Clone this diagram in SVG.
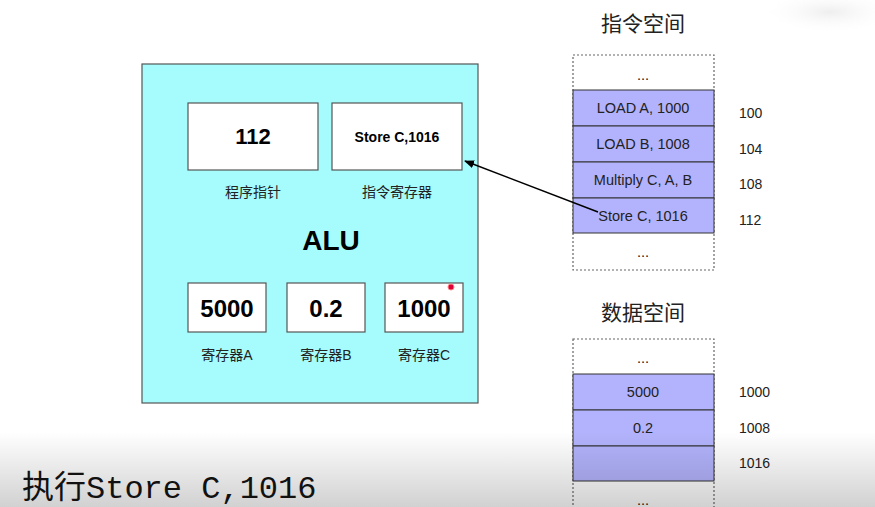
<svg xmlns="http://www.w3.org/2000/svg" width="875" height="507" viewBox="0 0 875 507">
<defs>
<style>
.box{fill:#fff;stroke:#555;stroke-width:1.2}
.big{font-family:"Liberation Sans",Arial,sans-serif;font-weight:bold;fill:#000;text-anchor:middle}
.lbl{font-family:"Liberation Sans","Noto Sans CJK SC",sans-serif;font-size:14px;fill:#222;text-anchor:middle}
.row{fill:#b3b3fd;stroke:#333;stroke-width:1}
.dot{fill:none;stroke:#666;stroke-width:1.2;stroke-dasharray:2,2}
.cell{font-family:"Liberation Sans",Arial,sans-serif;font-size:14.5px;fill:#222;text-anchor:middle}
.addr{font-family:"Liberation Sans",Arial,sans-serif;font-size:14px;fill:#222}
.title{font-family:"Noto Sans CJK SC",sans-serif;font-size:21px;fill:#222;text-anchor:middle}
</style>
<marker id="arr" markerWidth="10" markerHeight="8" refX="9" refY="4" orient="auto" markerUnits="userSpaceOnUse">
<path d="M0,0 L10,4 L0,8 Z" fill="#000"/>
</marker>
<linearGradient id="shade" x1="0" y1="0" x2="0" y2="1">
<stop offset="0" stop-color="#000" stop-opacity="0"/>
<stop offset="1" stop-color="#000" stop-opacity="0.18"/>
</linearGradient>
<radialGradient id="blob" cx="0.5" cy="0.5" r="0.5">
<stop offset="0" stop-color="#eee"/>
<stop offset="1" stop-color="#fff" stop-opacity="0"/>
</radialGradient>
</defs>
<rect width="875" height="507" fill="#fff"/>
<ellipse cx="830" cy="12" rx="70" ry="22" fill="url(#blob)"/>

<g id="alu">
<rect x="142" y="64" width="336" height="339" fill="#a6fcfc" stroke="#555" stroke-width="1.2"/>
<text x="331" y="250" class="big" font-size="28">ALU</text>
</g>
<g id="pc">
<rect class="box" x="188" y="103" width="130" height="67"/>
<text x="253" y="144" class="big" font-size="22">112</text>
<text x="253" y="197" class="lbl">程序指针</text>
</g>
<g id="ir">
<rect class="box" x="332" y="103" width="130" height="67"/>
<text x="397" y="142" class="big" font-size="14">Store C,1016</text>
<text x="397" y="197" class="lbl">指令寄存器</text>
</g>
<g id="regA">
<rect class="box" x="188" y="283" width="78" height="49"/>
<text x="227" y="317" class="big" font-size="24">5000</text>
<text x="227" y="360" class="lbl">寄存器A</text>
</g>
<g id="regB">
<rect class="box" x="287" y="283" width="78" height="49"/>
<text x="326" y="317" class="big" font-size="24">0.2</text>
<text x="326" y="360" class="lbl">寄存器B</text>
</g>
<g id="regC">
<rect class="box" x="385" y="283" width="78" height="49"/>
<text x="424" y="317" class="big" font-size="24">1000</text>
<text x="424" y="360" class="lbl">寄存器C</text>
<circle cx="451" cy="287" r="3" fill="#e0003a" stroke="#ff8080" stroke-width="1"/>
</g>

<g id="instr">
<text x="643" y="31" class="title">指令空间</text>
<rect class="dot" x="573" y="55" width="141" height="215"/>
<text x="643" y="80" class="cell">...</text>
<rect class="row" x="573" y="90" width="141" height="36"/>
<text x="643" y="113" class="cell">LOAD A, 1000</text>
<rect class="row" x="573" y="126" width="141" height="36"/>
<text x="643" y="149" class="cell">LOAD B, 1008</text>
<rect class="row" x="573" y="162" width="141" height="36"/>
<text x="643" y="185" class="cell">Multiply C, A, B</text>
<rect class="row" x="573" y="198" width="141" height="35"/>
<text x="643" y="221" class="cell">Store C, 1016</text>
<text x="643" y="257" class="cell">...</text>
<text x="739" y="118" class="addr">100</text>
<text x="739" y="154" class="addr">104</text>
<text x="739" y="189" class="addr">108</text>
<text x="739" y="225" class="addr">112</text>
</g>

<g id="data">
<text x="643" y="320" class="title">数据空间</text>
<rect class="dot" x="573" y="339" width="141" height="180"/>
<text x="643" y="363" class="cell">...</text>
<rect class="row" x="573" y="374" width="141" height="36"/>
<text x="643" y="397" class="cell">5000</text>
<rect class="row" x="573" y="410" width="141" height="36"/>
<text x="643" y="433" class="cell">0.2</text>
<rect class="row" x="573" y="446" width="141" height="35"/>
<text x="643" y="505" class="cell">...</text>
<text x="739" y="397" class="addr">1000</text>
<text x="739" y="433" class="addr">1008</text>
<text x="739" y="468" class="addr">1016</text>
</g>

<g id="connectors">
<line x1="598" y1="212" x2="465" y2="161" stroke="#000" stroke-width="1.5" marker-end="url(#arr)"/>
</g>

<rect x="0" y="432" width="875" height="75" fill="url(#shade)"/>
<text x="22" y="498" font-family="'Liberation Mono','Noto Sans CJK SC',monospace" font-size="32" fill="#111">执行Store C,1016</text>
</svg>
